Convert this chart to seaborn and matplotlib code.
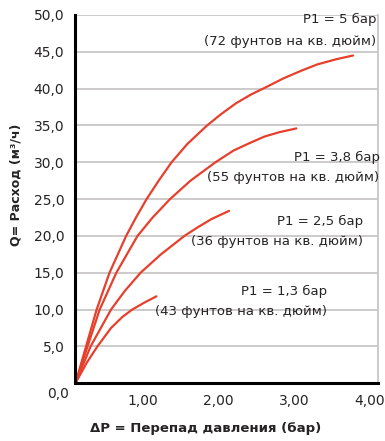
import matplotlib
matplotlib.use("Agg")
import matplotlib.pyplot as plt
import matplotlib.transforms as mtransforms
import seaborn as sns
import pandas as pd

# Flow curves: pressure drop (bar) vs flow rate (m3/h) for several inlet pressures
dp_5 = [0.0, 0.14, 0.28, 0.45, 0.67, 0.80, 0.94, 1.10, 1.27, 1.48, 1.74, 1.92, 2.12,
        2.32, 2.52, 2.75, 3.00, 3.20, 3.45, 3.67]
q_5 = [0.0, 5.0, 10.0, 15.0, 20.0, 22.5, 25.0, 27.5, 30.0, 32.5, 35.0, 36.5, 38.0,
       39.2, 40.2, 41.4, 42.5, 43.3, 44.0, 44.5]

dp_38 = [0.0, 0.16, 0.32, 0.54, 0.82, 1.02, 1.25, 1.52, 1.85, 2.09, 2.30, 2.50, 2.70, 2.92]
q_38 = [0.0, 5.0, 10.0, 15.0, 20.0, 22.5, 25.0, 27.5, 30.0, 31.6, 32.6, 33.5, 34.1, 34.6]

dp_25 = [0.0, 0.20, 0.47, 0.65, 0.86, 1.13, 1.44, 1.62, 1.80, 2.03]
q_25 = [0.0, 5.0, 10.0, 12.5, 15.0, 17.5, 20.0, 21.2, 22.3, 23.4]

dp_13 = [0.0, 0.15, 0.29, 0.47, 0.62, 0.75, 0.92, 1.07]
q_13 = [0.0, 2.8, 5.0, 7.5, 9.0, 10.0, 11.0, 11.8]

series = ["P1 = 5", "P1 = 3,8", "P1 = 2,5", "P1 = 1,3"]

labels_p1 = ["P1 = 5 бар", "P1 = 3,8 бар", "P1 = 2,5 бар", "P1 = 1,3 бар"]
labels_psi = ["(72 фунтов на кв. дюйм)", "(55 фунтов на кв. дюйм)",
              "(36 фунтов на кв. дюйм)", "(43 фунтов на кв. дюйм)"]

y_ticks = [5, 10, 15, 20, 25, 30, 35, 40, 45, 50]
y_ticklabels = ["5,0", "10,0", "15,0", "20,0", "25,0", "30,0", "35,0", "40,0", "45,0", "50,0"]
x_ticks = [0, 1, 2, 3, 4]
x_ticklabels = ["0,0", "1,00", "2,00", "3,00", "4,00"]

frames = []
for name, xs, ys in zip(series, [dp_5, dp_38, dp_25, dp_13], [q_5, q_38, q_25, q_13]):
    frames.append(pd.DataFrame({"dp": xs, "q": ys, "curve": name}))
df = pd.concat(frames, ignore_index=True)

sns.set_style("white")
plt.rcParams["font.family"] = ["DejaVu Sans"]

text_color = "#262324"
fig = plt.figure(figsize=(3.85, 4.41), dpi=100)
ax = fig.add_axes([0.196, 0.131, 0.786, 0.835])

red = "#e6402d"
sns.lineplot(data=df, x="dp", y="q", units="curve", estimator=None, sort=False,
             color=red, linewidth=1.6, ax=ax, legend=False)
for line in ax.get_lines():
    line.set_solid_capstyle("round")
    line.set_solid_joinstyle("round")

ax.set_xlim(0, 4)
ax.set_ylim(0, 50)
ax.set_yticks(y_ticks)
ax.set_yticklabels(y_ticklabels)
ax.set_xticks(x_ticks)
ax.set_xticklabels([])

ax.yaxis.grid(True, color="#c9c6c6", linewidth=1.3)
ax.xaxis.grid(False)
ax.set_axisbelow(True)

for side in ["left", "bottom"]:
    ax.spines[side].set_color("black")
    ax.spines[side].set_linewidth(2.2)
ax.spines["right"].set_color("#c9c6c6")
ax.spines["right"].set_linewidth(1.3)
ax.spines["top"].set_visible(False)

ax.tick_params(axis="both", which="major", direction="out", length=3, width=1.5,
               color="black", labelsize=10, labelcolor=text_color)
ax.tick_params(axis="y", pad=5)

# x tick labels, set a little to the left of their ticks
xlab_trans = mtransforms.blended_transform_factory(ax.transData, ax.transAxes)
for xv, txt in zip(x_ticks, x_ticklabels):
    if txt == "0,0":
        dx, dy = -17, -11
    else:
        dx, dy = -8, -18
    off = mtransforms.ScaledTranslation(dx / 100, dy / 100, fig.dpi_scale_trans)
    ax.text(xv, 0, txt, transform=xlab_trans + off, ha="center", va="center",
            fontsize=10, color=text_color)

ax.set_xlabel("ΔP = Перепад давления (бар)", fontsize=9.5, fontweight="bold", color=text_color)
ax.set_ylabel("Q= Расход (м³/ч)", fontsize=9, fontweight="bold", color=text_color)
ax.xaxis.set_label_coords(0.43, -0.105)
ax.yaxis.set_label_coords(-0.175, 0.54)

# Curve annotations (right aligned)
ann_x = [3.98, 4.02, 3.80, 3.32]
ann_y1 = [49.4, 30.6, 21.9, 12.4]
ann_y2 = [46.4, 27.9, 19.2, 9.7]
for x, y1, y2, t1, t2 in zip(ann_x, ann_y1, ann_y2, labels_p1, labels_psi):
    ax.text(x, y1, t1, ha="right", va="center", fontsize=9.5, color=text_color, clip_on=False)
    ax.text(x, y2, t2, ha="right", va="center", fontsize=9.5, color=text_color, clip_on=False)

fig.savefig("out.png", dpi=100)
